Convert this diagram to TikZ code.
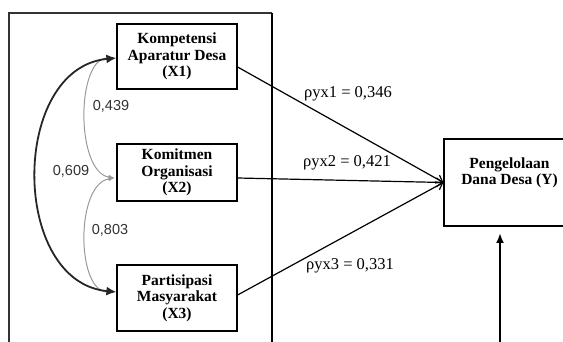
\documentclass[tikz,border=0pt]{standalone}
\usepackage{fontspec}
\setmainfont{Liberation Serif}
\newfontfamily\lsans{Liberation Sans}
\usetikzlibrary{arrows.meta}
\begin{document}
\begin{tikzpicture}[x=1pt,y=-1pt,
  vbox/.style={draw, line width=1.2pt, inner sep=0pt, align=center,
    font=\bfseries\fontsize{15.5}{16.5}\selectfont},
  ylbl/.style={inner sep=0pt, align=center, font=\bfseries\fontsize{15.5}{16.5}\selectfont},
  coef/.style={inner sep=0pt, font=\fontsize{16.5}{18}\selectfont},
  corr/.style={inner sep=0pt, text=black!80, font=\lsans\fontsize{14.5}{16}\selectfont},
  regline/.style={line width=1.2pt, -{Straight Barb[length=6pt,width=9pt]}},
  corrline/.style={line width=1pt, black!40, -{Latex[length=6pt,width=5pt]}},
  bigcorr/.style={line width=1.8pt, black!85, {Latex[length=10pt,width=9pt]}-{Latex[length=10pt,width=9pt]}}
]
\useasboundingbox (0,0) rectangle (563,342);
\clip (0,0) rectangle (563,342);

% frame
\coordinate (F1) at (9,350);
\coordinate (F2) at (9,13);
\coordinate (F3) at (272,13);
\coordinate (F4) at (272,350);
\draw[line width=1.5pt, black!80] (F1) -- (F2) -- (F3);
\draw[line width=2.6pt] (F3) -- (F4);

% boxes
\node[vbox, minimum width=120pt, minimum height=65pt] (X1) at (177,56.5) {Kompetensi\\Aparatur Desa\\(X1)};
\node[vbox, minimum width=120pt, minimum height=57pt] (X2) at (177,172.5) {Komitmen\\Organisasi\\(X2)};
\node[vbox, minimum width=120pt, minimum height=66pt] (X3) at (177,298) {Partisipasi\\Masyarakat\\(X3)};
\node[vbox, minimum width=131pt, minimum height=87pt] (Y) at (509.5,182.5) {};
\node[ylbl] (Yt) at (509.5,173) {Pengelolaan\\Dana Desa (Y)};

% regression paths
\draw[regline] ([yshift=-10.5pt]X1.east) -- (Y.west);
\draw[regline] ([yshift=-5.5pt]X2.east) -- (Y.west);
\draw[regline] ([yshift=3pt]X3.east) -- (Y.west);

\node[coef] (c1) at (348,94) {ρyx1 = 0,346};
\node[coef] (c2) at (347,163) {ρyx2 = 0,421};
\node[coef] (c3) at (350,266) {ρyx3 = 0,331};

% correlations
\coordinate (P) at (114.5,178);
\coordinate (A1) at (106,58);
\coordinate (A3) at (106,292);
\draw[corrline] (A1) .. controls (76,62) and (76,172) .. (P);
\draw[corrline] (A3) .. controls (76,288) and (76,184) .. (P);
\draw[bigcorr] ([yshift=-1.5pt]X1.west) .. controls (10,68) and (10,282) .. ([yshift=6pt]X3.west);

\node[corr] (r1) at (111,106) {0,439};
\node[corr] (r2) at (71,171) {0,609};
\node[corr] (r3) at (110,230) {0,803};

% residual arrow
\coordinate (B0) at (500,350);
\coordinate (B1) at (500,233);
\draw[line width=2.6pt, -{Latex[length=10pt,width=8pt]}] (B0) -- (B1);
\end{tikzpicture}
\end{document}
